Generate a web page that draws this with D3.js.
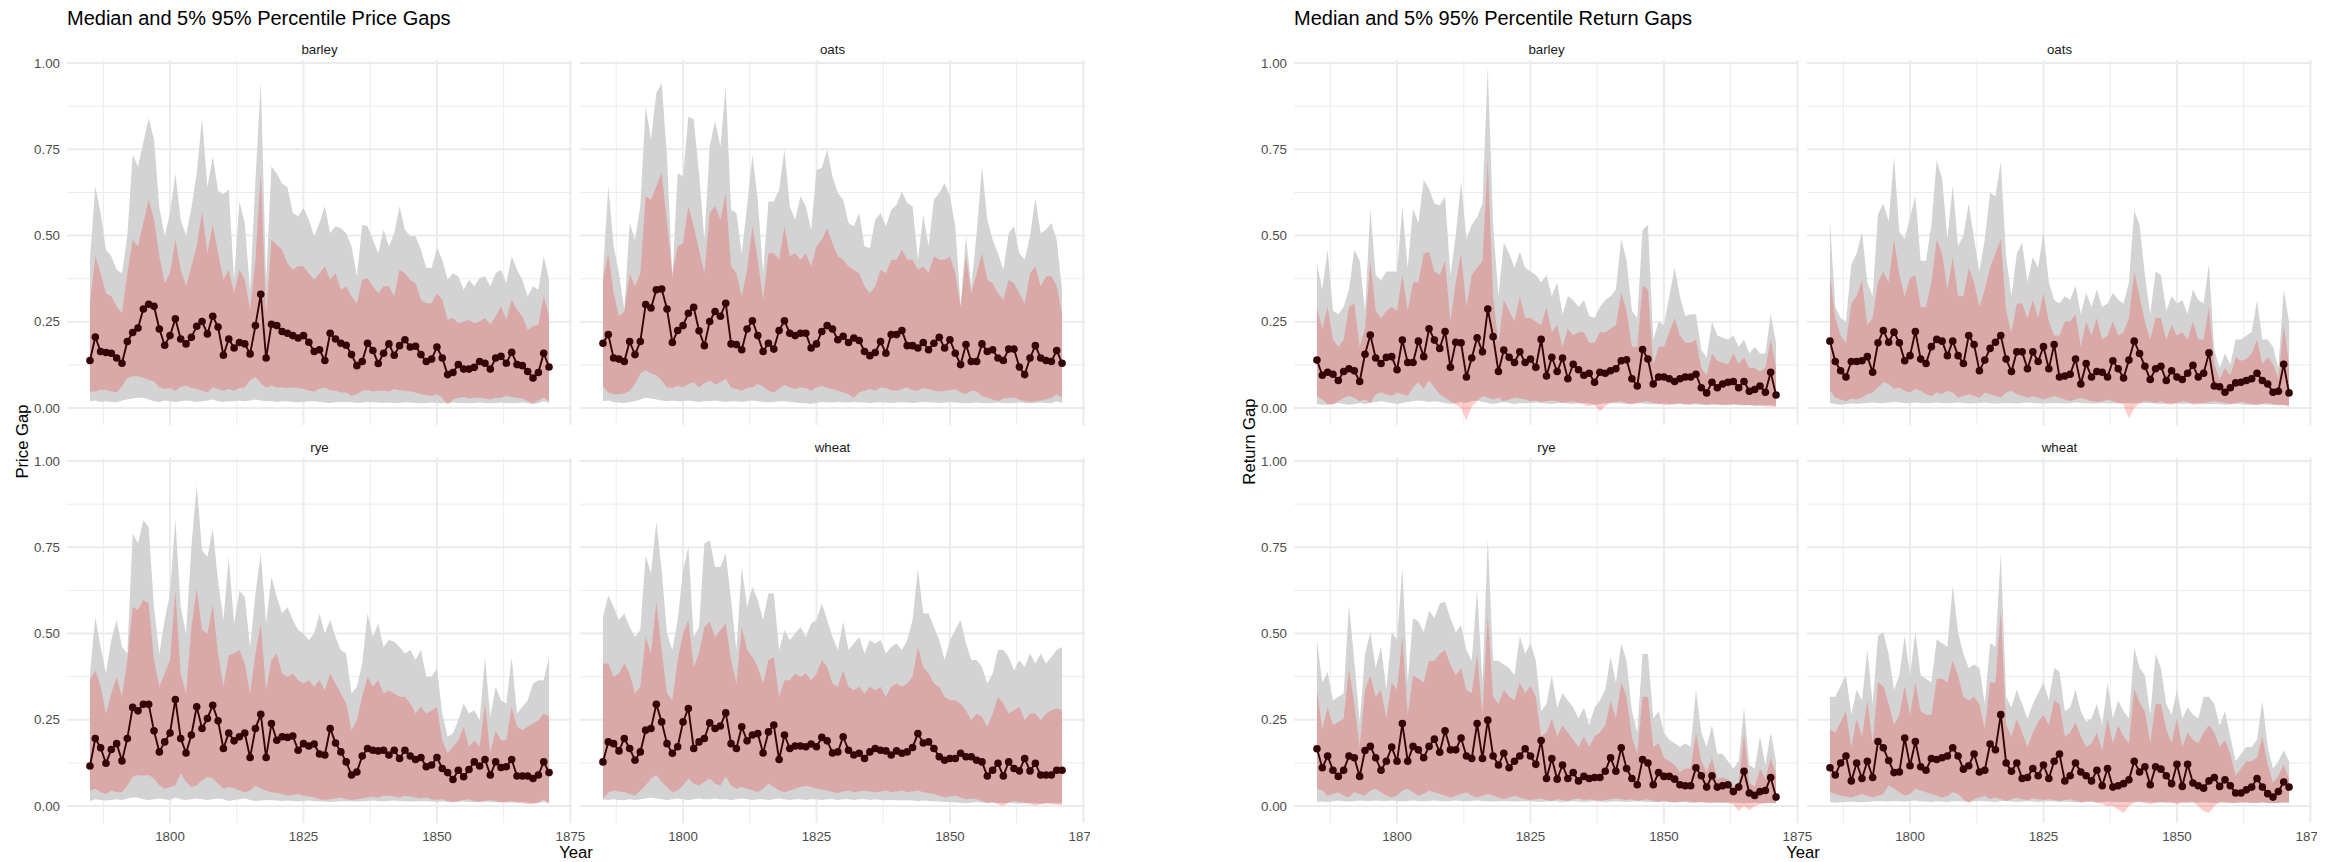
<!DOCTYPE html>
<html>
<head>
<meta charset="utf-8">
<script src="https://cdn.jsdelivr.net/npm/d3@7"></script>
<style>
  html, body { margin: 0; padding: 0; background: #ffffff; }
  svg { display: block; font-family: "Liberation Sans", Arial, Helvetica, sans-serif; }
</style>
</head>
<body>
<svg id="chart" width="2346" height="862"></svg>
<script>
// ---------- data ----------
const years = [1785,1786,1787,1788,1789,1790,1791,1792,1793,1794,1795,1796,1797,1798,1799,
  1800,1801,1802,1803,1804,1805,1806,1807,1808,1809,1810,1811,1812,1813,1814,1815,1816,1817,
  1818,1819,1820,1821,1822,1823,1824,1825,1826,1827,1828,1829,1830,1831,1832,1833,1834,1835,
  1836,1837,1838,1839,1840,1841,1842,1843,1844,1845,1846,1847,1848,1849,1850,1851,1852,1853,
  1854,1855,1856,1857,1858,1859,1860,1861,1862,1863,1864,1865,1866,1867,1868,1869,1870,1871];

const crops = ["barley", "oats", "rye", "wheat"];

const xTicks = [1800, 1825, 1850, 1875];
const xMinorTicks = [1787.5, 1812.5, 1837.5, 1862.5];
const yTicks = [0, 0.25, 0.5, 0.75, 1];
const yTickLabels = ["0.00", "0.25", "0.50", "0.75", "1.00"];
const yMinorTicks = [0.125, 0.375, 0.625, 0.875];

// Price gaps: barley
const priceBarleyMedian = [0.138,0.206,0.164,0.161,0.159,0.145,0.130,0.193,0.219,0.232,
0.287,0.301,0.295,0.229,0.182,0.210,0.259,0.200,0.186,0.205,
0.237,0.251,0.215,0.266,0.235,0.153,0.200,0.174,0.190,0.186,
0.157,0.239,0.330,0.145,0.243,0.239,0.222,0.217,0.210,0.203,
0.210,0.191,0.164,0.169,0.138,0.217,0.200,0.188,0.182,0.155,
0.123,0.135,0.188,0.167,0.129,0.159,0.186,0.153,0.181,0.198,
0.177,0.179,0.155,0.135,0.142,0.177,0.145,0.097,0.103,0.126,
0.113,0.113,0.118,0.135,0.130,0.113,0.145,0.150,0.130,0.162,
0.126,0.123,0.106,0.087,0.103,0.159,0.119];
const priceBarleyP95 = [0.430,0.643,0.565,0.459,0.440,0.401,0.391,0.500,0.734,0.700,
0.770,0.840,0.780,0.580,0.500,0.565,0.680,0.545,0.500,0.580,
0.680,0.840,0.640,0.730,0.630,0.620,0.635,0.370,0.600,0.535,
0.340,0.660,0.947,0.370,0.700,0.680,0.650,0.640,0.565,0.556,
0.580,0.546,0.498,0.536,0.585,0.507,0.527,0.522,0.507,0.469,
0.382,0.531,0.527,0.488,0.449,0.517,0.469,0.507,0.585,0.517,
0.498,0.498,0.459,0.406,0.406,0.464,0.430,0.372,0.391,0.382,
0.343,0.372,0.353,0.377,0.382,0.353,0.391,0.401,0.362,0.440,
0.401,0.372,0.324,0.353,0.343,0.440,0.372];
const priceBarleyP75 = [0.304,0.440,0.391,0.333,0.324,0.295,0.275,0.391,0.488,0.469,
0.536,0.604,0.546,0.440,0.362,0.391,0.488,0.401,0.353,0.411,
0.469,0.570,0.449,0.531,0.449,0.372,0.401,0.333,0.401,0.372,
0.285,0.430,0.681,0.266,0.488,0.473,0.459,0.420,0.401,0.411,
0.411,0.391,0.372,0.391,0.411,0.372,0.391,0.343,0.353,0.324,
0.304,0.372,0.377,0.353,0.333,0.353,0.353,0.324,0.401,0.391,
0.372,0.362,0.314,0.304,0.304,0.333,0.314,0.256,0.261,0.246,
0.251,0.256,0.246,0.251,0.261,0.242,0.266,0.295,0.256,0.314,
0.285,0.266,0.227,0.237,0.242,0.324,0.266];
const priceBarleyP25 = [0.048,0.048,0.053,0.053,0.048,0.045,0.063,0.087,0.092,0.092,
0.087,0.082,0.077,0.060,0.055,0.058,0.050,0.062,0.065,0.058,
0.055,0.050,0.045,0.060,0.055,0.050,0.055,0.050,0.058,0.060,
0.080,0.090,0.072,0.060,0.065,0.060,0.060,0.058,0.060,0.058,
0.055,0.050,0.048,0.055,0.060,0.052,0.050,0.045,0.045,0.035,
0.040,0.050,0.052,0.048,0.050,0.050,0.048,0.055,0.052,0.050,
0.048,0.045,0.040,0.038,0.035,0.040,0.030,0.010,0.025,0.030,
0.032,0.028,0.030,0.030,0.028,0.025,0.030,0.030,0.035,0.032,
0.030,0.028,0.020,0.015,0.022,0.030,0.020];
const priceBarleyP05 = [0.020,0.022,0.018,0.020,0.018,0.017,0.022,0.025,0.028,0.030,
0.030,0.025,0.020,0.018,0.022,0.020,0.018,0.020,0.022,0.020,
0.018,0.020,0.022,0.025,0.020,0.018,0.020,0.020,0.022,0.020,
0.022,0.025,0.022,0.020,0.020,0.018,0.020,0.020,0.018,0.017,
0.018,0.020,0.020,0.018,0.016,0.015,0.017,0.018,0.018,0.017,
0.015,0.016,0.018,0.017,0.016,0.015,0.016,0.015,0.015,0.017,
0.016,0.015,0.014,0.015,0.016,0.015,0.014,0.015,0.016,0.015,
0.015,0.014,0.015,0.016,0.015,0.014,0.015,0.016,0.015,0.014,
0.015,0.016,0.014,0.012,0.014,0.020,0.015];

// Price gaps: oats
const priceOatsMedian = [0.188,0.213,0.145,0.142,0.135,0.193,0.155,0.193,0.300,0.290,
0.343,0.345,0.287,0.190,0.225,0.239,0.275,0.292,0.224,0.181,
0.251,0.280,0.266,0.304,0.186,0.184,0.169,0.229,0.253,0.210,
0.164,0.188,0.171,0.225,0.253,0.217,0.210,0.217,0.217,0.174,
0.186,0.222,0.239,0.229,0.198,0.208,0.190,0.203,0.196,0.164,
0.152,0.161,0.193,0.159,0.213,0.213,0.225,0.181,0.181,0.174,
0.190,0.169,0.188,0.205,0.174,0.198,0.159,0.126,0.184,0.135,
0.135,0.186,0.164,0.169,0.145,0.138,0.171,0.171,0.119,0.097,
0.145,0.181,0.145,0.138,0.135,0.167,0.130];
const priceOatsP95 = [0.391,0.643,0.469,0.391,0.285,0.536,0.488,0.585,0.874,0.778,
0.913,0.942,0.729,0.372,0.681,0.671,0.845,0.836,0.681,0.488,
0.758,0.831,0.758,0.932,0.575,0.565,0.449,0.585,0.734,0.604,
0.391,0.599,0.599,0.633,0.749,0.585,0.546,0.614,0.585,0.517,
0.691,0.696,0.749,0.671,0.623,0.604,0.536,0.527,0.565,0.469,
0.464,0.546,0.565,0.527,0.575,0.589,0.628,0.594,0.585,0.430,
0.560,0.469,0.604,0.623,0.652,0.614,0.527,0.295,0.498,0.353,
0.507,0.700,0.546,0.488,0.449,0.401,0.507,0.527,0.449,0.430,
0.498,0.609,0.507,0.517,0.536,0.488,0.343];
const priceOatsP75 = [0.372,0.449,0.333,0.266,0.280,0.391,0.353,0.391,0.614,0.604,
0.643,0.681,0.536,0.391,0.469,0.478,0.585,0.527,0.459,0.391,
0.565,0.585,0.546,0.623,0.411,0.391,0.324,0.401,0.527,0.430,
0.314,0.449,0.449,0.430,0.527,0.440,0.449,0.430,0.449,0.411,
0.469,0.488,0.522,0.478,0.440,0.430,0.411,0.401,0.391,0.353,
0.333,0.353,0.401,0.391,0.430,0.430,0.459,0.430,0.430,0.401,
0.411,0.391,0.440,0.430,0.430,0.440,0.391,0.295,0.440,0.333,
0.391,0.449,0.372,0.362,0.333,0.314,0.372,0.362,0.333,0.304,
0.391,0.411,0.353,0.382,0.382,0.353,0.275];
const priceOatsP25 = [0.063,0.045,0.040,0.040,0.042,0.050,0.070,0.100,0.110,0.100,
0.095,0.080,0.060,0.058,0.065,0.060,0.070,0.075,0.060,0.072,
0.080,0.068,0.075,0.085,0.060,0.055,0.050,0.058,0.060,0.070,
0.062,0.050,0.045,0.055,0.068,0.060,0.055,0.060,0.058,0.050,
0.060,0.065,0.058,0.055,0.050,0.045,0.040,0.030,0.045,0.050,
0.055,0.050,0.060,0.058,0.052,0.050,0.055,0.060,0.052,0.050,
0.058,0.055,0.050,0.048,0.050,0.052,0.055,0.045,0.040,0.050,
0.048,0.035,0.030,0.025,0.020,0.028,0.030,0.030,0.025,0.020,
0.018,0.020,0.022,0.025,0.030,0.040,0.030];
const priceOatsP05 = [0.020,0.022,0.018,0.016,0.015,0.018,0.020,0.025,0.030,0.028,
0.025,0.022,0.020,0.022,0.020,0.020,0.022,0.020,0.018,0.020,
0.020,0.022,0.020,0.018,0.020,0.020,0.018,0.020,0.022,0.020,
0.018,0.017,0.018,0.020,0.020,0.018,0.016,0.015,0.014,0.012,
0.015,0.018,0.017,0.016,0.018,0.017,0.016,0.018,0.017,0.016,
0.015,0.016,0.017,0.016,0.015,0.016,0.017,0.016,0.015,0.016,
0.018,0.017,0.016,0.015,0.016,0.017,0.016,0.015,0.014,0.015,
0.016,0.015,0.014,0.015,0.016,0.015,0.014,0.015,0.016,0.015,
0.014,0.015,0.016,0.015,0.014,0.020,0.015];

// Price gaps: rye
const priceRyeMedian = [0.116,0.196,0.169,0.124,0.164,0.181,0.131,0.196,0.286,0.276,
0.295,0.295,0.218,0.157,0.186,0.212,0.309,0.196,0.154,0.206,
0.288,0.225,0.254,0.292,0.247,0.167,0.212,0.189,0.201,0.212,
0.141,0.225,0.266,0.141,0.239,0.191,0.201,0.199,0.203,0.162,
0.181,0.174,0.180,0.151,0.148,0.225,0.183,0.157,0.128,0.090,
0.099,0.145,0.167,0.162,0.160,0.162,0.148,0.162,0.138,0.162,
0.145,0.135,0.141,0.114,0.119,0.141,0.109,0.097,0.077,0.104,
0.085,0.106,0.128,0.116,0.135,0.090,0.128,0.112,0.114,0.135,
0.087,0.087,0.087,0.080,0.090,0.128,0.097];
const priceRyeP95 = [0.384,0.548,0.461,0.384,0.481,0.539,0.461,0.442,0.790,0.761,
0.828,0.809,0.577,0.442,0.539,0.616,0.833,0.577,0.500,0.751,
0.930,0.741,0.722,0.804,0.654,0.539,0.722,0.529,0.625,0.606,
0.461,0.616,0.732,0.529,0.664,0.606,0.558,0.577,0.539,0.510,
0.500,0.481,0.500,0.558,0.500,0.539,0.490,0.452,0.442,0.326,
0.346,0.413,0.558,0.490,0.529,0.461,0.481,0.476,0.461,0.442,
0.452,0.423,0.452,0.375,0.375,0.399,0.268,0.201,0.210,0.249,
0.297,0.268,0.278,0.249,0.432,0.259,0.346,0.307,0.297,0.432,
0.268,0.288,0.307,0.355,0.365,0.365,0.432];
const priceRyeP75 = [0.365,0.394,0.346,0.268,0.326,0.375,0.317,0.423,0.577,0.568,
0.597,0.587,0.423,0.346,0.384,0.423,0.625,0.384,0.326,0.519,
0.630,0.510,0.500,0.582,0.442,0.346,0.437,0.442,0.452,0.413,
0.326,0.442,0.529,0.336,0.423,0.442,0.384,0.375,0.384,0.365,
0.355,0.365,0.346,0.365,0.336,0.384,0.355,0.326,0.297,0.220,
0.249,0.317,0.375,0.346,0.365,0.326,0.336,0.326,0.317,0.317,
0.297,0.268,0.288,0.268,0.278,0.288,0.191,0.153,0.172,0.191,
0.230,0.172,0.191,0.172,0.297,0.153,0.220,0.191,0.191,0.288,
0.230,0.220,0.230,0.239,0.249,0.268,0.259];
const priceRyeP25 = [0.045,0.050,0.040,0.035,0.045,0.040,0.040,0.060,0.085,0.090,
0.088,0.090,0.080,0.060,0.050,0.055,0.060,0.095,0.070,0.055,
0.060,0.075,0.085,0.080,0.065,0.050,0.055,0.052,0.045,0.040,
0.045,0.060,0.050,0.045,0.040,0.038,0.035,0.030,0.032,0.035,
0.030,0.028,0.025,0.020,0.018,0.020,0.022,0.025,0.020,0.018,
0.020,0.022,0.025,0.028,0.025,0.030,0.030,0.028,0.025,0.030,
0.028,0.025,0.022,0.025,0.020,0.018,0.020,0.015,0.012,0.015,
0.018,0.020,0.015,0.012,0.015,0.018,0.015,0.010,0.012,0.015,
0.010,0.008,0.005,0.006,0.010,0.020,0.005];
const priceRyeP05 = [0.015,0.020,0.018,0.016,0.018,0.020,0.018,0.022,0.025,0.025,
0.020,0.018,0.020,0.022,0.020,0.018,0.025,0.020,0.018,0.020,
0.022,0.020,0.018,0.020,0.022,0.020,0.015,0.018,0.020,0.022,
0.018,0.015,0.016,0.018,0.017,0.016,0.015,0.016,0.015,0.014,
0.015,0.016,0.015,0.014,0.013,0.012,0.013,0.014,0.015,0.014,
0.013,0.014,0.015,0.016,0.015,0.014,0.015,0.016,0.015,0.014,
0.013,0.014,0.015,0.014,0.013,0.012,0.013,0.012,0.011,0.012,
0.013,0.012,0.011,0.012,0.013,0.012,0.011,0.012,0.011,0.010,
0.011,0.012,0.010,0.009,0.010,0.012,0.010];

// Price gaps: wheat
const priceWheatMedian = [0.128,0.186,0.181,0.160,0.196,0.167,0.133,0.157,0.220,0.225,
0.295,0.244,0.181,0.153,0.172,0.244,0.283,0.167,0.186,0.196,
0.241,0.225,0.232,0.270,0.181,0.167,0.230,0.189,0.206,0.210,
0.154,0.215,0.235,0.135,0.206,0.167,0.174,0.174,0.172,0.180,
0.172,0.199,0.189,0.154,0.157,0.201,0.162,0.148,0.153,0.138,
0.157,0.167,0.162,0.160,0.148,0.160,0.153,0.157,0.170,0.210,
0.183,0.186,0.167,0.143,0.133,0.138,0.138,0.153,0.143,0.143,
0.133,0.128,0.087,0.104,0.124,0.087,0.128,0.109,0.102,0.138,
0.102,0.124,0.090,0.090,0.090,0.104,0.104];
const priceWheatP95 = [0.548,0.611,0.577,0.539,0.558,0.519,0.490,0.510,0.727,0.674,
0.823,0.683,0.500,0.452,0.539,0.683,0.751,0.490,0.519,0.761,
0.770,0.693,0.693,0.732,0.597,0.452,0.693,0.577,0.635,0.597,
0.539,0.616,0.616,0.452,0.510,0.481,0.500,0.519,0.490,0.529,
0.539,0.587,0.539,0.490,0.452,0.534,0.452,0.471,0.490,0.442,
0.481,0.471,0.481,0.442,0.461,0.471,0.452,0.481,0.539,0.688,
0.558,0.558,0.519,0.481,0.423,0.481,0.510,0.539,0.471,0.423,
0.423,0.403,0.355,0.384,0.452,0.452,0.432,0.394,0.423,0.403,
0.442,0.413,0.442,0.413,0.432,0.452,0.461];
const priceWheatP75 = [0.413,0.413,0.375,0.384,0.413,0.384,0.326,0.346,0.490,0.442,
0.592,0.452,0.326,0.307,0.423,0.500,0.539,0.403,0.442,0.519,
0.534,0.490,0.510,0.529,0.423,0.355,0.519,0.452,0.432,0.403,
0.355,0.423,0.432,0.317,0.365,0.365,0.384,0.375,0.384,0.365,
0.384,0.423,0.403,0.355,0.346,0.394,0.346,0.336,0.346,0.326,
0.346,0.336,0.346,0.317,0.346,0.355,0.346,0.355,0.375,0.461,
0.403,0.384,0.355,0.346,0.317,0.307,0.307,0.297,0.278,0.249,
0.268,0.259,0.230,0.268,0.317,0.297,0.268,0.278,0.288,0.249,
0.268,0.268,0.249,0.268,0.278,0.283,0.278];
const priceWheatP25 = [0.020,0.040,0.045,0.042,0.040,0.035,0.030,0.045,0.060,0.080,
0.090,0.070,0.055,0.040,0.045,0.060,0.080,0.065,0.060,0.070,
0.080,0.065,0.060,0.085,0.060,0.050,0.055,0.050,0.045,0.040,
0.050,0.065,0.055,0.045,0.040,0.045,0.050,0.055,0.058,0.055,
0.050,0.048,0.045,0.040,0.038,0.042,0.045,0.040,0.042,0.045,
0.042,0.040,0.042,0.045,0.040,0.042,0.045,0.040,0.042,0.045,
0.040,0.038,0.035,0.030,0.025,0.028,0.030,0.025,0.020,0.022,
0.020,0.015,0.010,0.012,0.005,0.000,0.010,0.015,0.012,0.010,
0.005,0.002,0.005,0.008,0.005,0.004,0.003];
const priceWheatP05 = [0.020,0.018,0.020,0.018,0.017,0.020,0.018,0.020,0.022,0.025,
0.022,0.020,0.018,0.020,0.022,0.020,0.018,0.020,0.022,0.020,
0.020,0.022,0.020,0.020,0.018,0.020,0.022,0.020,0.018,0.020,
0.020,0.018,0.020,0.022,0.020,0.018,0.020,0.020,0.018,0.020,
0.020,0.018,0.020,0.020,0.018,0.020,0.020,0.018,0.020,0.020,
0.018,0.020,0.018,0.017,0.018,0.017,0.016,0.017,0.016,0.015,
0.016,0.015,0.014,0.013,0.012,0.012,0.011,0.010,0.008,0.010,
0.012,0.010,0.008,0.010,0.009,0.008,0.010,0.008,0.007,0.008,
0.009,0.008,0.007,0.008,0.009,0.008,0.008];

// Return gaps: barley
const returnBarleyMedian = [0.139,0.095,0.104,0.098,0.080,0.106,0.114,0.108,0.077,0.156,
0.212,0.145,0.129,0.147,0.149,0.111,0.197,0.132,0.132,0.194,
0.149,0.230,0.197,0.173,0.222,0.118,0.191,0.189,0.090,0.145,
0.204,0.163,0.287,0.207,0.106,0.168,0.147,0.132,0.163,0.132,
0.142,0.118,0.199,0.093,0.147,0.106,0.145,0.085,0.127,0.111,
0.095,0.101,0.075,0.104,0.101,0.108,0.114,0.137,0.140,0.085,
0.064,0.170,0.142,0.070,0.090,0.090,0.085,0.077,0.085,0.090,
0.090,0.098,0.059,0.044,0.075,0.059,0.070,0.075,0.077,0.059,
0.077,0.049,0.054,0.064,0.046,0.104,0.038];
const returnBarleyP95 = [0.417,0.344,0.459,0.282,0.272,0.293,0.344,0.459,0.427,0.282,
0.578,0.386,0.370,0.396,0.396,0.396,0.583,0.407,0.578,0.536,
0.661,0.635,0.593,0.588,0.614,0.386,0.500,0.656,0.490,0.531,
0.552,0.593,0.988,0.531,0.324,0.479,0.448,0.407,0.453,0.407,
0.396,0.386,0.365,0.386,0.324,0.365,0.272,0.324,0.313,0.293,
0.313,0.267,0.261,0.293,0.313,0.324,0.344,0.490,0.427,0.282,
0.261,0.516,0.531,0.199,0.251,0.241,0.324,0.407,0.324,0.267,
0.272,0.272,0.168,0.147,0.251,0.210,0.204,0.199,0.210,0.178,
0.199,0.158,0.178,0.158,0.158,0.272,0.189];
const returnBarleyP75 = [0.293,0.230,0.293,0.199,0.178,0.199,0.293,0.303,0.178,0.230,
0.427,0.282,0.261,0.282,0.293,0.282,0.386,0.282,0.365,0.365,
0.448,0.453,0.396,0.386,0.427,0.251,0.365,0.448,0.293,0.386,
0.407,0.427,0.718,0.324,0.189,0.313,0.282,0.251,0.324,0.261,
0.261,0.251,0.241,0.293,0.220,0.241,0.178,0.230,0.210,0.220,
0.220,0.189,0.189,0.220,0.220,0.230,0.241,0.334,0.282,0.178,
0.178,0.355,0.344,0.127,0.178,0.178,0.220,0.261,0.210,0.189,
0.189,0.199,0.116,0.095,0.158,0.137,0.132,0.127,0.158,0.127,
0.147,0.116,0.116,0.106,0.116,0.199,0.116];
const returnBarleyP25 = [0.035,0.025,0.012,0.010,0.020,0.030,0.035,0.030,0.020,0.025,
0.015,0.040,0.045,0.040,0.035,0.045,0.040,0.035,0.060,0.075,
0.055,0.080,0.060,0.040,0.030,0.020,0.010,0.000,-0.035,0.005,
0.020,0.035,0.030,0.025,0.030,0.020,0.025,0.030,0.028,0.025,
0.020,0.022,0.018,0.020,0.022,0.020,0.015,0.018,0.020,0.015,
0.010,0.005,0.010,-0.010,0.005,0.015,0.018,0.020,0.015,0.010,
0.015,0.018,0.020,0.015,0.012,0.010,0.008,0.012,0.015,0.010,
0.012,0.015,0.012,0.010,0.012,0.010,0.008,0.010,0.012,0.010,
0.008,0.010,0.006,0.008,0.005,0.004,0.003];
const returnBarleyP05 = [0.012,0.010,0.010,0.012,0.015,0.012,0.010,0.012,0.015,0.012,
0.015,0.018,0.020,0.018,0.015,0.012,0.015,0.018,0.020,0.022,
0.020,0.018,0.020,0.018,0.015,0.012,0.015,0.018,0.015,0.020,
0.022,0.018,0.015,0.012,0.015,0.018,0.015,0.012,0.015,0.013,
0.015,0.016,0.015,0.013,0.012,0.014,0.015,0.013,0.012,0.014,
0.015,0.014,0.010,0.012,0.014,0.015,0.014,0.013,0.012,0.013,
0.014,0.013,0.012,0.011,0.012,0.013,0.012,0.011,0.012,0.011,
0.010,0.011,0.010,0.009,0.010,0.011,0.010,0.009,0.010,0.009,
0.008,0.009,0.008,0.007,0.008,0.009,0.007];

// Return gaps: oats
const returnOatsMedian = [0.194,0.135,0.108,0.090,0.135,0.135,0.137,0.149,0.104,0.189,
0.225,0.191,0.220,0.189,0.137,0.152,0.222,0.142,0.129,0.178,
0.199,0.194,0.152,0.194,0.152,0.129,0.210,0.184,0.108,0.139,
0.173,0.191,0.210,0.142,0.106,0.163,0.163,0.114,0.163,0.135,
0.178,0.114,0.184,0.090,0.093,0.098,0.142,0.070,0.129,0.090,
0.106,0.104,0.090,0.137,0.114,0.087,0.139,0.194,0.158,0.121,
0.083,0.114,0.121,0.080,0.108,0.090,0.083,0.101,0.124,0.090,
0.101,0.160,0.064,0.062,0.046,0.059,0.073,0.075,0.080,0.085,
0.101,0.080,0.070,0.046,0.049,0.127,0.044];
const returnOatsP95 = [0.541,0.293,0.261,0.251,0.417,0.448,0.510,0.365,0.324,0.562,
0.593,0.541,0.728,0.510,0.490,0.552,0.614,0.427,0.427,0.531,
0.718,0.666,0.490,0.645,0.469,0.500,0.593,0.490,0.396,0.490,
0.624,0.614,0.713,0.438,0.324,0.448,0.479,0.365,0.438,0.407,
0.510,0.365,0.313,0.303,0.324,0.313,0.355,0.272,0.334,0.293,
0.344,0.293,0.303,0.334,0.313,0.303,0.365,0.573,0.531,0.386,
0.272,0.396,0.386,0.282,0.324,0.303,0.313,0.272,0.344,0.313,
0.303,0.417,0.168,0.116,0.158,0.127,0.199,0.199,0.210,0.220,
0.313,0.199,0.199,0.178,0.116,0.344,0.251];
const returnOatsP75 = [0.386,0.261,0.210,0.189,0.303,0.324,0.370,0.241,0.261,0.365,
0.396,0.365,0.490,0.386,0.324,0.376,0.386,0.293,0.293,0.365,
0.490,0.448,0.344,0.438,0.324,0.324,0.407,0.365,0.293,0.344,
0.407,0.448,0.490,0.282,0.220,0.303,0.303,0.261,0.313,0.261,
0.334,0.251,0.210,0.210,0.251,0.251,0.272,0.178,0.251,0.210,
0.261,0.199,0.210,0.251,0.210,0.220,0.261,0.396,0.324,0.251,
0.199,0.261,0.261,0.199,0.241,0.210,0.220,0.199,0.251,0.199,
0.199,0.293,0.127,0.085,0.116,0.095,0.147,0.137,0.142,0.158,
0.199,0.127,0.147,0.127,0.085,0.241,0.127];
const returnOatsP25 = [0.050,0.030,0.025,0.020,0.028,0.025,0.030,0.040,0.045,0.060,
0.075,0.070,0.055,0.060,0.050,0.045,0.055,0.050,0.040,0.035,
0.045,0.040,0.050,0.045,0.030,0.035,0.040,0.035,0.030,0.045,
0.040,0.035,0.030,0.045,0.050,0.040,0.035,0.030,0.035,0.030,
0.025,0.030,0.035,0.030,0.025,0.020,0.025,0.030,0.025,0.020,
0.018,0.020,0.025,0.020,0.015,0.010,-0.030,0.000,0.015,0.020,
0.018,0.015,0.020,0.012,0.010,0.015,0.020,0.018,0.010,0.012,
0.015,0.018,0.020,0.018,0.015,0.012,0.015,0.018,0.015,0.012,
0.010,0.012,0.015,0.012,0.010,0.008,0.003];
const returnOatsP05 = [0.015,0.012,0.010,0.012,0.013,0.012,0.014,0.015,0.016,0.015,
0.014,0.016,0.018,0.016,0.015,0.014,0.016,0.015,0.014,0.015,
0.016,0.015,0.014,0.015,0.016,0.015,0.013,0.014,0.015,0.016,
0.014,0.013,0.014,0.015,0.014,0.013,0.015,0.016,0.015,0.014,
0.013,0.014,0.015,0.014,0.013,0.015,0.016,0.015,0.014,0.013,
0.014,0.015,0.014,0.013,0.014,0.015,0.014,0.013,0.014,0.015,
0.014,0.013,0.012,0.013,0.014,0.013,0.012,0.013,0.014,0.013,
0.012,0.011,0.012,0.011,0.010,0.011,0.012,0.011,0.010,0.009,
0.010,0.011,0.010,0.009,0.008,0.010,0.008];

// Return gaps: rye
const returnRyeMedian = [0.166,0.111,0.145,0.104,0.086,0.104,0.145,0.140,0.086,0.161,
0.173,0.140,0.104,0.130,0.171,0.130,0.239,0.130,0.173,0.163,
0.140,0.173,0.194,0.156,0.218,0.163,0.163,0.197,0.145,0.138,
0.239,0.138,0.249,0.145,0.119,0.153,0.111,0.130,0.145,0.166,
0.145,0.121,0.190,0.080,0.138,0.078,0.119,0.080,0.097,0.073,
0.086,0.080,0.083,0.083,0.101,0.140,0.101,0.169,0.109,0.080,
0.062,0.135,0.125,0.062,0.097,0.086,0.086,0.078,0.062,0.059,
0.059,0.111,0.088,0.055,0.088,0.055,0.059,0.062,0.042,0.055,
0.101,0.038,0.031,0.042,0.045,0.083,0.026];
const returnRyeP95 = [0.483,0.358,0.389,0.306,0.317,0.327,0.582,0.421,0.244,0.441,
0.504,0.400,0.462,0.337,0.504,0.483,0.691,0.358,0.545,0.535,
0.504,0.566,0.545,0.587,0.592,0.545,0.504,0.524,0.452,0.421,
0.628,0.358,0.774,0.421,0.421,0.410,0.400,0.379,0.493,0.441,
0.472,0.421,0.275,0.296,0.379,0.286,0.327,0.306,0.286,0.254,
0.286,0.234,0.286,0.306,0.337,0.431,0.358,0.472,0.421,0.275,
0.213,0.441,0.441,0.254,0.275,0.213,0.192,0.182,0.171,0.182,
0.171,0.337,0.213,0.171,0.234,0.151,0.151,0.130,0.109,0.130,
0.286,0.119,0.109,0.202,0.119,0.213,0.130];
const returnRyeP75 = [0.337,0.223,0.286,0.234,0.244,0.254,0.400,0.296,0.171,0.337,
0.379,0.317,0.337,0.254,0.358,0.337,0.493,0.265,0.379,0.369,
0.358,0.421,0.421,0.441,0.452,0.410,0.379,0.400,0.337,0.327,
0.441,0.265,0.556,0.317,0.296,0.337,0.317,0.306,0.358,0.327,
0.348,0.317,0.202,0.213,0.254,0.202,0.234,0.213,0.192,0.171,
0.202,0.171,0.202,0.213,0.234,0.306,0.254,0.358,0.317,0.202,
0.151,0.317,0.317,0.171,0.182,0.140,0.130,0.119,0.099,0.109,
0.109,0.213,0.130,0.099,0.140,0.078,0.083,0.078,0.057,0.067,
0.213,0.067,0.057,0.109,0.078,0.140,0.090];
const returnRyeP25 = [0.050,0.045,0.030,0.035,0.040,0.030,0.025,0.040,0.035,0.030,
0.045,0.050,0.040,0.030,0.025,0.030,0.045,0.050,0.040,0.030,
0.035,0.045,0.040,0.035,0.030,0.025,0.030,0.035,0.040,0.030,
0.025,0.030,0.035,0.030,0.025,0.020,0.025,0.030,0.025,0.020,
0.018,0.020,0.022,0.018,0.015,0.020,0.018,0.015,0.020,0.022,
0.018,0.020,0.018,0.015,0.018,0.020,0.022,0.020,0.018,0.020,
0.015,0.018,0.020,0.015,0.012,0.015,0.012,0.010,0.012,0.015,
0.012,0.010,0.012,0.008,0.010,0.012,0.010,0.008,0.005,-0.015,
0.000,-0.012,0.000,0.005,0.008,0.010,0.008];
const returnRyeP05 = [0.012,0.013,0.012,0.014,0.016,0.014,0.013,0.014,0.016,0.015,
0.014,0.016,0.015,0.014,0.016,0.015,0.014,0.015,0.016,0.015,
0.014,0.015,0.016,0.015,0.014,0.015,0.016,0.015,0.014,0.015,
0.016,0.015,0.014,0.013,0.014,0.015,0.014,0.013,0.014,0.015,
0.014,0.013,0.012,0.013,0.014,0.013,0.012,0.013,0.014,0.013,
0.012,0.013,0.014,0.013,0.012,0.013,0.014,0.013,0.012,0.013,
0.014,0.013,0.012,0.011,0.012,0.013,0.012,0.011,0.012,0.011,
0.010,0.011,0.012,0.011,0.010,0.009,0.010,0.011,0.010,0.009,
0.008,0.009,0.010,0.009,0.008,0.010,0.008];

// Return gaps: wheat
const returnWheatMedian = [0.111,0.090,0.125,0.145,0.073,0.125,0.080,0.130,0.083,0.187,
0.169,0.132,0.097,0.099,0.197,0.117,0.187,0.114,0.104,0.138,
0.135,0.140,0.145,0.169,0.145,0.107,0.117,0.151,0.099,0.104,
0.180,0.163,0.265,0.125,0.101,0.125,0.080,0.083,0.109,0.088,
0.119,0.080,0.130,0.151,0.073,0.088,0.125,0.099,0.088,0.073,
0.104,0.059,0.109,0.055,0.059,0.065,0.076,0.130,0.099,0.114,
0.062,0.114,0.107,0.088,0.065,0.121,0.057,0.121,0.067,0.059,
0.052,0.073,0.083,0.057,0.076,0.059,0.038,0.038,0.047,0.055,
0.080,0.055,0.036,0.026,0.042,0.070,0.055];
const returnWheatP95 = [0.317,0.317,0.348,0.379,0.265,0.337,0.306,0.452,0.296,0.493,
0.504,0.441,0.337,0.379,0.493,0.379,0.504,0.379,0.369,0.358,
0.483,0.472,0.462,0.639,0.504,0.441,0.400,0.410,0.400,0.296,
0.472,0.462,0.732,0.317,0.286,0.337,0.296,0.254,0.296,0.327,
0.358,0.306,0.400,0.389,0.275,0.286,0.337,0.275,0.244,0.254,
0.296,0.234,0.358,0.254,0.306,0.275,0.254,0.460,0.400,0.380,
0.265,0.441,0.400,0.296,0.265,0.337,0.254,0.286,0.265,0.254,
0.317,0.317,0.296,0.234,0.275,0.202,0.130,0.151,0.171,0.171,
0.192,0.306,0.171,0.109,0.130,0.161,0.130];
const returnWheatP75 = [0.223,0.213,0.244,0.275,0.171,0.254,0.202,0.306,0.182,0.358,
0.348,0.296,0.234,0.265,0.348,0.265,0.358,0.275,0.265,0.265,
0.369,0.369,0.358,0.421,0.379,0.317,0.306,0.317,0.296,0.223,
0.358,0.358,0.566,0.234,0.202,0.254,0.213,0.171,0.213,0.244,
0.265,0.234,0.306,0.296,0.202,0.213,0.244,0.202,0.171,0.182,
0.213,0.161,0.254,0.182,0.234,0.202,0.182,0.340,0.300,0.275,
0.182,0.296,0.296,0.223,0.182,0.254,0.171,0.213,0.192,0.182,
0.213,0.234,0.213,0.171,0.192,0.151,0.088,0.109,0.130,0.130,
0.140,0.202,0.119,0.067,0.088,0.119,0.078];
const returnWheatP25 = [0.040,0.035,0.030,0.028,0.025,0.030,0.035,0.030,0.025,0.030,
0.035,0.060,0.050,0.040,0.030,0.035,0.050,0.045,0.040,0.035,
0.030,0.025,0.030,0.040,0.035,0.020,0.010,0.020,0.025,0.030,
0.020,0.025,0.020,0.015,0.020,0.025,0.020,0.018,0.022,0.020,
0.018,0.020,0.018,0.015,0.018,0.020,0.015,0.010,0.012,0.015,
0.010,0.005,0.000,0.000,-0.010,-0.020,0.000,0.010,0.012,0.008,
0.005,0.010,0.012,0.008,0.010,0.005,0.010,0.008,0.012,0.000,
-0.015,-0.020,0.000,0.012,0.010,0.008,0.010,0.012,0.010,0.008,
0.010,0.012,0.010,0.008,0.010,0.012,0.010];
const returnWheatP05 = [0.012,0.010,0.011,0.012,0.013,0.012,0.011,0.012,0.014,0.015,
0.014,0.013,0.015,0.014,0.013,0.015,0.016,0.014,0.013,0.012,
0.014,0.013,0.012,0.014,0.015,0.013,0.012,0.014,0.015,0.014,
0.013,0.012,0.014,0.015,0.013,0.012,0.013,0.014,0.013,0.012,
0.013,0.014,0.013,0.012,0.013,0.012,0.011,0.012,0.013,0.012,
0.011,0.012,0.013,0.012,0.011,0.012,0.011,0.012,0.013,0.012,
0.011,0.010,0.011,0.012,0.011,0.010,0.011,0.012,0.011,0.010,
0.011,0.010,0.009,0.010,0.011,0.010,0.009,0.010,0.011,0.010,
0.009,0.010,0.009,0.008,0.009,0.010,0.009];

// ---------- assemble ----------
const priceSeries = {
  barley: { median: priceBarleyMedian, p05: priceBarleyP05, p25: priceBarleyP25, p75: priceBarleyP75, p95: priceBarleyP95 },
  oats:   { median: priceOatsMedian,   p05: priceOatsP05,   p25: priceOatsP25,   p75: priceOatsP75,   p95: priceOatsP95 },
  rye:    { median: priceRyeMedian,    p05: priceRyeP05,    p25: priceRyeP25,    p75: priceRyeP75,    p95: priceRyeP95 },
  wheat:  { median: priceWheatMedian,  p05: priceWheatP05,  p25: priceWheatP25,  p75: priceWheatP75,  p95: priceWheatP95 }
};
const returnSeries = {
  barley: { median: returnBarleyMedian, p05: returnBarleyP05, p25: returnBarleyP25, p75: returnBarleyP75, p95: returnBarleyP95 },
  oats:   { median: returnOatsMedian,   p05: returnOatsP05,   p25: returnOatsP25,   p75: returnOatsP75,   p95: returnOatsP95 },
  rye:    { median: returnRyeMedian,    p05: returnRyeP05,    p25: returnRyeP25,    p75: returnRyeP75,    p95: returnRyeP95 },
  wheat:  { median: returnWheatMedian,  p05: returnWheatP05,  p25: returnWheatP25,  p75: returnWheatP75,  p95: returnWheatP95 }
};

const charts = [
  { title: "Median and 5% 95% Percentile Price Gaps",  ylab: "Price Gap",  series: priceSeries,  offset: 0 },
  { title: "Median and 5% 95% Percentile Return Gaps", ylab: "Return Gap", series: returnSeries, offset: 1227 }
];

// ---------- layout ----------
const colX = [[67, 572], [580, 1085]];
const rowY = [[60, 425], [458, 823]];
const xDomain = [1780.7, 1875.3];
const yDomain = [-0.049, 1.0087];

const GRID = "#EBEBEB";
const OUTER_FILL = "#d3d3d3";
const INNER_FILL = "#ff0000";
const INNER_OPACITY = 0.2;
const MEDIAN_COLOR = "#330505";

const svg = d3.select("#chart");
const defs = svg.append("defs");

charts.forEach((chart, ci) => {
  const clipId = "plotclip" + ci;
  defs.append("clipPath").attr("id", clipId)
    .append("rect").attr("x", chart.offset).attr("y", 0).attr("width", 1090).attr("height", 862);

  const g = svg.append("g").attr("clip-path", `url(#${clipId})`);

  // title
  g.append("text")
    .attr("x", chart.offset + colX[0][0]).attr("y", 25)
    .attr("font-size", 20).attr("fill", "#000")
    .text(chart.title);

  // y axis title
  g.append("text")
    .attr("transform", `translate(${chart.offset + 22},${(rowY[0][0] + rowY[1][1]) / 2}) rotate(-90)`)
    .attr("text-anchor", "middle").attr("dy", "0.35em")
    .attr("font-size", 16.7).attr("fill", "#000")
    .text(chart.ylab);

  // x axis title
  g.append("text")
    .attr("x", chart.offset + (colX[0][0] + colX[1][1]) / 2).attr("y", 858)
    .attr("text-anchor", "middle")
    .attr("font-size", 16.7).attr("fill", "#000")
    .text("Year");

  crops.forEach((crop, k) => {
    const r = Math.floor(k / 2), c = k % 2;
    const x0 = chart.offset + colX[c][0], x1 = chart.offset + colX[c][1];
    const yTop = rowY[r][0], yBot = rowY[r][1];

    const x = d3.scaleLinear().domain(xDomain).range([x0, x1]);
    const y = d3.scaleLinear().domain(yDomain).range([yBot, yTop]);

    const pg = g.append("g");

    // grid: minor then major
    pg.selectAll(".hminor").data(yMinorTicks).join("line")
      .attr("x1", x0).attr("x2", x1).attr("y1", d => y(d)).attr("y2", d => y(d))
      .attr("stroke", GRID).attr("stroke-width", 1);
    pg.selectAll(".vminor").data(xMinorTicks).join("line")
      .attr("y1", yTop).attr("y2", yBot).attr("x1", d => x(d)).attr("x2", d => x(d))
      .attr("stroke", GRID).attr("stroke-width", 1);
    pg.selectAll(".hmajor").data(yTicks).join("line")
      .attr("x1", x0).attr("x2", x1).attr("y1", d => y(d)).attr("y2", d => y(d))
      .attr("stroke", GRID).attr("stroke-width", 2);
    pg.selectAll(".vmajor").data(xTicks).join("line")
      .attr("y1", yTop).attr("y2", yBot).attr("x1", d => x(d)).attr("x2", d => x(d))
      .attr("stroke", GRID).attr("stroke-width", 2);

    const s = chart.series[crop];
    const rows = years.map((yr, i) => ({
      year: yr, median: s.median[i], p05: s.p05[i], p25: s.p25[i], p75: s.p75[i], p95: s.p95[i]
    }));

    const outerArea = d3.area().x(d => x(d.year)).y0(d => y(d.p05)).y1(d => y(d.p95));
    const innerArea = d3.area().x(d => x(d.year)).y0(d => y(d.p25)).y1(d => y(d.p75));
    const medLine = d3.line().x(d => x(d.year)).y(d => y(d.median));

    pg.append("path").datum(rows).attr("d", outerArea).attr("fill", OUTER_FILL);
    pg.append("path").datum(rows).attr("d", innerArea)
      .attr("fill", INNER_FILL).attr("fill-opacity", INNER_OPACITY);
    pg.append("path").datum(rows).attr("d", medLine)
      .attr("fill", "none").attr("stroke", MEDIAN_COLOR).attr("stroke-width", 1.9)
      .attr("stroke-linejoin", "round");
    pg.selectAll("circle").data(rows).join("circle")
      .attr("cx", d => x(d.year)).attr("cy", d => y(d.median)).attr("r", 3.8)
      .attr("fill", MEDIAN_COLOR);

    // strip label
    g.append("text")
      .attr("x", (x0 + x1) / 2).attr("y", yTop - 11).attr("dy", "0.35em")
      .attr("text-anchor", "middle").attr("font-size", 13.3).attr("fill", "#1A1A1A")
      .text(crop);

    // y tick labels on the left column
    if (c === 0) {
      g.selectAll(null).data(yTicks).join("text")
        .attr("x", x0 - 7).attr("y", d => y(d)).attr("dy", "0.35em")
        .attr("text-anchor", "end").attr("font-size", 13.3).attr("fill", "#4D4D4D")
        .text((d, i) => yTickLabels[i]);
    }
    // x tick labels on the bottom row
    if (r === 1) {
      g.selectAll(null).data(xTicks).join("text")
        .attr("x", d => x(d)).attr("y", yBot + 18)
        .attr("text-anchor", "middle").attr("font-size", 13.3).attr("fill", "#4D4D4D")
        .text(d => d);
    }
  });
});
</script>
</body>
</html>
